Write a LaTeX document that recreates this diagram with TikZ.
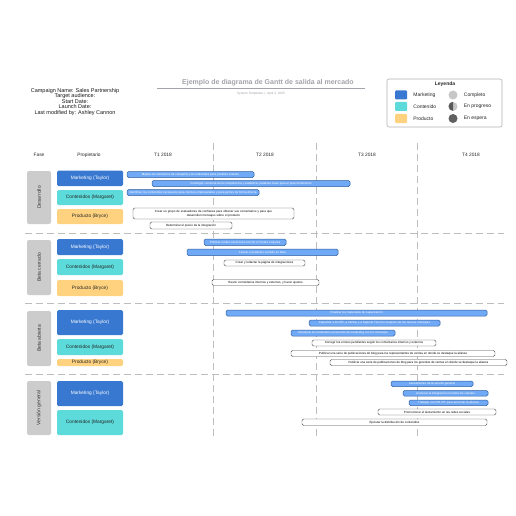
\documentclass[tikz,border=0pt]{standalone}
\usepackage{fontspec}
\setmainfont{Liberation Sans}
\usetikzlibrary{positioning}

\definecolor{mkblue}{HTML}{3878D0}
\definecolor{contcyan}{HTML}{5DDADA}
\definecolor{prodorange}{HTML}{FFD27F}
\definecolor{phasegray}{HTML}{CCCCCC}
\definecolor{barblue}{HTML}{70A9F5}
\definecolor{baredge}{HTML}{2F5E9E}
\definecolor{gridgray}{HTML}{BDBDBD}
\definecolor{titlegray}{HTML}{A3A3AB}

\tikzset{
  owner/.style={rounded corners=1.5pt, minimum width=66pt, inner sep=0pt,
    font=\fontsize{4.8}{5}\selectfont},
  mkt/.style={owner, fill=mkblue, text=white},
  cont/.style={owner, fill=contcyan, text=black!85},
  prod/.style={owner, fill=prodorange, text=black!85},
  phase/.style={fill=phasegray, rounded corners=2pt, minimum height=24pt,
    inner sep=0pt, rotate=90, text=black!80, font=\fontsize{5}{6}\selectfont},
  bar/.style={rounded corners=1.5pt, inner sep=0pt,
    font=\fontsize{3}{3.6}\selectfont},
  bluebar/.style={bar, fill=barblue, draw=baredge, line width=0.5pt, text=white},
  whitebar/.style={bar, fill=white, draw=black!70, line width=0.4pt, text=black},
  colhead/.style={font=\fontsize{4.8}{5}\selectfont, text=black!85},
  gridline/.style={gridgray, line width=0.6pt, dash pattern=on 7pt off 4pt},
  legtext/.style={font=\fontsize{5}{5}\selectfont, text=black!85, inner sep=0pt}
}

\begin{document}
\begin{tikzpicture}[x=1pt, y=-1pt]

  % page
  \fill[white] (0,0) rectangle (516,516);
  \useasboundingbox (0,0) rectangle (516,516);

  % campaign info
  \node[align=center, font=\fontsize{5.5}{5.5}\selectfont, text=black!90] (info) at (75,102)
    {Campaign Name: Sales Partnership\\ Target audience:\\ Start Date:\\ Launch Date:\\
     Last modified by: Ashley Cannon};

  % title
  \node[font=\bfseries\fontsize{7}{8}\selectfont, text=titlegray] (title) at (268,82.5)
    {Ejemplo de diagrama de Gantt de salida al mercado};
  \draw[titlegray, line width=0.8pt] (157,88.5) -- (365,88.5);
  \node[font=\fontsize{3.2}{4}\selectfont, text=titlegray] (subtitle) at (261,93.5)
    {System Templates \,|\, April 3, 2025};

  % legend
  \draw[gray!60, line width=0.6pt, rounded corners=2pt] (387,79) rectangle (502,127);
  \node[font=\bfseries\fontsize{5}{5}\selectfont, text=black!85] (legend) at (445,84.5) {Leyenda};
  \node[fill=mkblue, rounded corners=1pt, minimum width=12pt, minimum height=9pt] (sqm) at (401,95) {};
  \node[fill=contcyan, rounded corners=1pt, minimum width=12pt, minimum height=9pt] (sqc) at (401,106.5) {};
  \node[fill=prodorange, rounded corners=1pt, minimum width=12pt, minimum height=9pt] (sqp) at (401,118.5) {};
  \node[legtext, right=6pt of sqm] (lm) {Marketing};
  \node[legtext, right=6pt of sqc] (lc) {Contenido};
  \node[legtext, right=6pt of sqp] (lp) {Producto};
  \node[circle, fill=black!22, minimum size=9pt, inner sep=0pt] (done) at (453,95) {};
  \node[circle, fill=black!22, minimum size=9pt, inner sep=0pt] (prog) at (453,106.5) {};
  \fill[black!65] (prog.north) arc[start angle=90, end angle=270, radius=4.5pt] -- cycle;
  \node[circle, fill=black!62, minimum size=9pt, inner sep=0pt] (hold) at (453,118.5) {};
  \node[legtext, right=6pt of done] (ld) {Completo};
  \node[legtext, right=6pt of prog] (lg) {En progreso};
  \node[legtext, right=6pt of hold] (lh) {En espera};

  % column headers
  \foreach \n/\x/\txt in {hfase/39/Fase, hprop/89/Propietario, hq1/163/T1 2018,
                          hq2/265/T2 2018, hq3/367/T3 2018, hq4/471/T4 2018}
    \node[colhead] (\n) at (\x,155) {\txt};

  % grid
  \foreach \x in {213,316,417}
    \draw[gridline] (\x,143) -- (\x,436);
  \foreach \y in {233,303,374}
    \draw[gridline] (25,\y) -- (504,\y);

  % phases
  \foreach \n/\ya/\yb/\txt in {pdes/171/224/Desarrollo, pbc/240/295/Beta cerrado,
                               pba/311/366/Beta abierta, pvg/381/435/Versión general}
    \node[phase, minimum width={(\yb-\ya)*1pt}] (\n) at (39,{(\ya+\yb)/2}) {\txt};

  % owners
  \foreach \n/\s/\ya/\yb/\txt in {
      om1/mkt/170.5/186/Marketing (Taylor), oc1/cont/190/205/Contenidos (Margaret),
      op1/prod/209/224/Producto (Bryce),
      om2/mkt/239/255/Marketing (Taylor), oc2/cont/259/275/Contenidos (Margaret),
      op2/prod/280/296/Producto (Bryce),
      om3/mkt/310/335/Marketing (Taylor), oc3/cont/339/355/Contenidos (Margaret),
      op3/prod/359/366/Producto (Bryce),
      om4/mkt/381/406/Marketing (Taylor), oc4/cont/410/435/Contenidos (Margaret)}
    \node[\s, minimum height={(\yb-\ya)*1pt}] (\n) at (90,{(\ya+\yb)/2}) {\txt};

  % tasks
  \foreach \n/\s/\xa/\xb/\ya/\yb/\txt in {
      t1/bluebar/127/254/171.5/177.5/{Mapea los elementos de campaña y los materiales para posibles clientes},
      t2/bluebar/152/350/180.5/186.5/{Investigar conducta de la competencia y establecer palabras clave para el posicionamiento},
      t3/bluebar/127/259/189.5/195.5/{Identificar los contenidos necesarios para clientes empresariales y para pymes de forma directa},
      t5/whitebar/150/232/222/229/{Determinar el precio de la integración},
      t6/bluebar/204/286/239/245.5/{Publicar el libro electrónico escrito en forma conjunta},
      t7/bluebar/187/338/249/255.5/{Lanzar el producto cerrado en beta},
      t8/whitebar/224/305/260/266/{Crear y redactar la página de integraciones},
      t9/whitebar/212/319/279.5/285.5/{Reunir comentarios internos y externos, y hacer ajustes},
      t10/bluebar/226/487/310/316/{Finalizar los materiales de capacitación},
      t11/bluebar/309/440/320/326/{Capacitar a los ER, a Ventas y a Soporte Técnico respecto de los nuevos mensajes},
      t12/bluebar/291/395/330/336/{Actualizar los materiales accesorios de marketing con los mensajes},
      t13/whitebar/312/436/340/346/{Corregir los errores pendientes según los comentarios internos y externos},
      t14/whitebar/291/495/350.5/356.5/{Publicar una serie de publicaciones de blog para los representantes de ventas en donde se destaque la alianza},
      t15/whitebar/330/507/359.5/365.5/{Publicar una serie de publicaciones de blog para los gerentes de ventas en donde se destaque la alianza},
      t16/bluebar/391/473/381/386.5/{Lanzamiento de la versión general},
      t17/bluebar/403/488/390.5/396/{Anunciar la integración en todos los canales},
      t18/bluebar/409/488/400/405.5/{Trabajar con RR. PP. para anunciar la alianza},
      t19/whitebar/378/496/409/415/{Promocionar el lanzamiento en las redes sociales},
      t20/whitebar/302/487/419/425.5/{Ejecutar la distribución de contenidos}}
    \node[\s, minimum width={(\xb-\xa)*1pt}, minimum height={(\yb-\ya)*1pt}]
      (\n) at ({(\xa+\xb)/2},{(\ya+\yb)/2}) {\txt};

  % two-line task
  \node[whitebar, minimum width=161pt, minimum height=11pt, text width=155pt, align=center]
    (t4) at (213.5,213.5)
    {Crear un grupo de evaluadores de confianza para obtener sus comentarios y para que\\
     desarrollen mensajes sobre el producto};

\end{tikzpicture}
\end{document}
